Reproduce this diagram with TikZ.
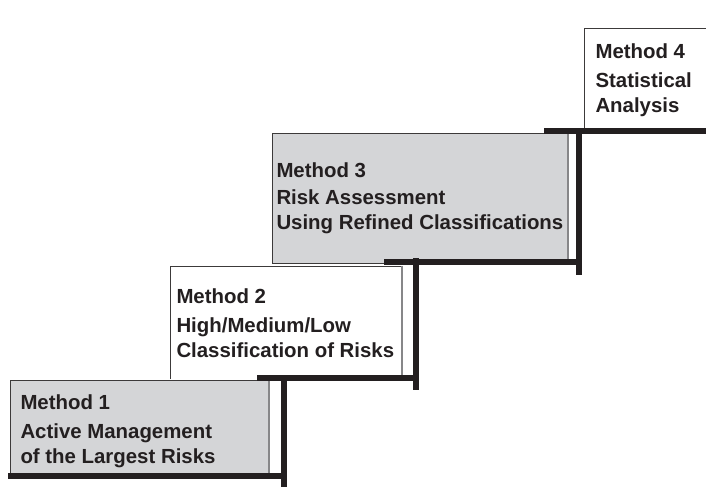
\documentclass[tikz,border=0pt]{standalone}
\usepackage{fontspec}
\setmainfont{Liberation Sans}
\definecolor{inkblack}{RGB}{35,31,32}
\definecolor{panelgray}{RGB}{212,213,215}
\definecolor{edgedark}{RGB}{60,58,58}
\definecolor{edgegray}{RGB}{135,135,137}
\begin{document}
\begin{tikzpicture}[x=1pt,y=-1pt,
  panel/.style={draw=none, inner sep=0pt, outer sep=0pt, anchor=north west},
  frame/.style={draw=edgedark, line width=0.9pt},
  sideedge/.style={draw=edgegray, line width=1.6pt},
  stair/.style={draw=inkblack, line width=6pt, line cap=butt},
  steptext/.style={anchor=base west, inner sep=0pt, outer sep=0pt, text=inkblack,
    font=\fontsize{20.4}{24}\selectfont\bfseries}]
\useasboundingbox (0,0) rectangle (706,487);
\clip (0,0) rectangle (706,487);
\fill[white] (0,0) rectangle (706,487);

% Step panels, drawn from the top step down so each lower one overlaps the next
\node[panel, fill=white, minimum width=130pt, minimum height=103pt] (box4) at (584,28) {};
\draw[frame] (box4.south west) -- (box4.north west) -- (box4.north east);

\node[panel, fill=panelgray, minimum width=296pt, minimum height=130pt] (box3) at (272,133) {};
\draw[frame] (box3.south east) -- (box3.south west) -- (box3.north west) -- (box3.north east);
\draw[sideedge] (box3.north east) -- (box3.south east);

\node[panel, fill=white, minimum width=232pt, minimum height=113pt] (box2) at (170,266) {};
\draw[frame] (box2.south west) -- (box2.north west) -- (box2.north east);
\draw[sideedge] (box2.north east) -- (box2.south east);

\node[panel, fill=panelgray, minimum width=259pt, minimum height=94pt] (box1) at (10,380) {};
\draw[frame] (box1.south west) -- (box1.north west) -- (box1.north east);
\draw[sideedge] (box1.north east) -- (box1.south east);

% Staircase: treads and risers
\coordinate (tread1s) at (8,476);
\coordinate (tread1e) at (286.5,476);
\coordinate (riser1t) at (283.5,375);
\coordinate (riser1b) at (283.5,487);
\coordinate (tread2s) at (257,378);
\coordinate (tread2e) at (418.5,378);
\coordinate (riser2t) at (415.5,258);
\coordinate (riser2b) at (415.5,390);
\coordinate (tread3s) at (384,261.5);
\coordinate (tread3e) at (582,261.5);
\coordinate (riser3t) at (579,128);
\coordinate (riser3b) at (579,275);
\coordinate (tread4s) at (544,131);
\coordinate (tread4e) at (712,131);
\draw[stair] (tread1s) -- (tread1e);
\draw[stair] (riser1t) -- (riser1b);
\draw[stair] (tread2s) -- (tread2e);
\draw[stair] (riser2t) -- (riser2b);
\draw[stair] (tread3s) -- (tread3e);
\draw[stair] (riser3t) -- (riser3b);
\draw[stair] (tread4s) -- (tread4e);

% Labels
\node[steptext] (m1a) at (20.5,409) {Method 1};
\node[steptext] (m1b) at (20.5,438) {Active Management};
\node[steptext] (m1c) at (20.5,463.5) {of the Largest Risks};

\node[steptext] (m2a) at (176.5,303) {Method 2};
\node[steptext] (m2b) at (176.5,332) {High/Medium/Low};
\node[steptext] (m2c) at (176.5,357) {Classification of Risks};

\node[steptext] (m3a) at (276.5,177) {Method 3};
\node[steptext] (m3b) at (276.5,204) {Risk Assessment};
\node[steptext] (m3c) at (276.5,229) {Using Refined Classifications};

\node[steptext] (m4a) at (595.5,59) {Method 4};
\node[steptext] (m4b) at (595.5,87) {Statistical};
\node[steptext] (m4c) at (595.5,112) {Analysis};
\end{tikzpicture}
\end{document}
